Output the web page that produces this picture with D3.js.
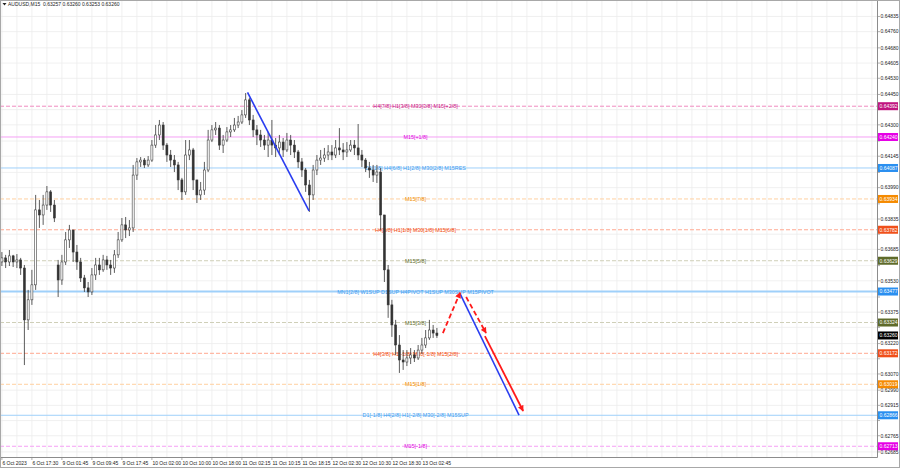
<!DOCTYPE html>
<html><head><meta charset="utf-8">
<script src="https://cdn.jsdelivr.net/npm/d3@7"></script>
<style>html,body{margin:0;padding:0;background:#fff;overflow:hidden}</style>
</head><body><svg id="c" width="900" height="468"></svg>
<script>
// ---------- DATA ----------
const symbolTitle = "AUDUSD,M15  0.63257 0.63260 0.63253 0.63260";
// hourly-sampled candles (index = hour from chart start)
const closes = [0.63643,0.63623,0.63653,0.63623,0.63633,0.63593,0.63337,0.63436,0.63510,0.63880,
0.63855,0.63904,0.63969,0.63904,0.63840,0.63534,0.63623,0.63732,0.63781,0.63672,
0.63623,0.63544,0.63495,0.63475,0.63559,0.63608,0.63584,0.63633,0.63608,0.63593,
0.63658,0.63732,0.63806,0.63781,0.63791,0.64052,0.64117,0.64126,0.64102,0.64126,
0.64200,0.64250,0.64299,0.64200,0.64151,0.64126,0.64102,0.64028,0.63969,0.64151,
0.64176,0.64028,0.63954,0.63978,0.64077,0.64225,0.64275,0.64284,0.64200,0.64225,
0.64265,0.64275,0.64299,0.64314,0.64349,0.64423,0.64324,0.64275,0.64250,0.64225,
0.64200,0.64225,0.64200,0.64186,0.64215,0.64176,0.64225,0.64200,0.64166,0.64117,
0.64077,0.64003,0.63954,0.64077,0.64126,0.64136,0.64151,0.64166,0.64151,0.64186,
0.64176,0.64166,0.64176,0.64200,0.64186,0.64151,0.64126,0.64087,0.64077,0.64052,
0.64067,0.63855,0.63584,0.63411,0.63312,0.63213,0.63139,0.63129,0.63149,0.63164,
0.63149,0.63188,0.63213,0.63248,0.63287,0.63272,0.63260];
const highs = [0.63672,0.63658,0.63682,0.63658,0.63662,0.63643,0.63608,0.63485,0.63584,0.63954,
0.63929,0.63954,0.63998,0.63978,0.63929,0.63633,0.63658,0.63771,0.63806,0.63756,
0.63707,0.63643,0.63559,0.63524,0.63593,0.63643,0.63643,0.63658,0.63653,0.63633,
0.63682,0.63771,0.63840,0.63845,0.63830,0.64102,0.64136,0.64141,0.64136,0.64146,
0.64225,0.64299,0.64324,0.64314,0.64210,0.64176,0.64151,0.64117,0.64038,0.64225,
0.64225,0.64186,0.64028,0.64018,0.64117,0.64275,0.64299,0.64314,0.64299,0.64250,
0.64289,0.64299,0.64334,0.64344,0.64373,0.64457,0.64432,0.64349,0.64299,0.64275,
0.64250,0.64265,0.64324,0.64235,0.64250,0.64235,0.64260,0.64250,0.64225,0.64176,
0.64136,0.64087,0.64028,0.64102,0.64151,0.64176,0.64186,0.64200,0.64200,0.64225,
0.64284,0.64210,0.64215,0.64225,0.64225,0.64304,0.64176,0.64136,0.64117,0.64102,
0.64102,0.64087,0.63855,0.63608,0.63436,0.63337,0.63262,0.63188,0.63188,0.63198,
0.63188,0.63213,0.63248,0.63287,0.63337,0.63312,0.63297];
const lows = [0.63603,0.63593,0.63603,0.63598,0.63593,0.63559,0.63114,0.63287,0.63411,0.63485,
0.63791,0.63806,0.63880,0.63870,0.63820,0.63450,0.63510,0.63608,0.63692,0.63623,
0.63584,0.63524,0.63475,0.63450,0.63460,0.63534,0.63559,0.63574,0.63584,0.63559,
0.63569,0.63643,0.63722,0.63741,0.63751,0.63771,0.64028,0.64092,0.64087,0.64092,
0.64117,0.64186,0.64225,0.64176,0.64117,0.64092,0.64067,0.63978,0.63929,0.63954,
0.64126,0.63978,0.63914,0.63929,0.63954,0.64067,0.64215,0.64250,0.64176,0.64161,
0.64215,0.64240,0.64265,0.64284,0.64304,0.64334,0.64299,0.64240,0.64200,0.64191,
0.64176,0.64141,0.64151,0.64141,0.64151,0.64141,0.64166,0.64151,0.64136,0.64087,
0.64043,0.63969,0.63870,0.63929,0.64052,0.64102,0.64117,0.64126,0.64126,0.64136,
0.64151,0.64126,0.64141,0.64166,0.64151,0.64126,0.64092,0.64067,0.64038,0.64018,
0.64013,0.63781,0.63524,0.63347,0.63253,0.63164,0.63075,0.63090,0.63109,0.63119,
0.63129,0.63139,0.63169,0.63198,0.63238,0.63248,0.63248];
const firstOpen = 0.63623;
const gapOpens = {15: 0.63608};   // Monday session open after weekend gap

const priceTicks = [0.64835,0.64760,0.64680,0.64605,0.64530,0.64450,0.64375,0.64300,0.64220,0.64145,
0.64065,0.63990,0.63910,0.63835,0.63760,0.63685,0.63605,0.63530,0.63450,0.63375,0.63300,0.63220,
0.63145,0.63070,0.62990,0.62915,0.62840,0.62765,0.62685];
const timeTickIndex = [0,8,16,24,32,40,48,56,64,72,80,88,96,104,112];
const timeTickLabels = ["6 Oct 2023","6 Oct 17:30","9 Oct 01:45","9 Oct 09:45","9 Oct 17:45",
"10 Oct 02:00","10 Oct 10:00","10 Oct 18:00","11 Oct 02:15","11 Oct 10:15","11 Oct 18:15",
"12 Oct 02:30","12 Oct 10:30","12 Oct 18:30","13 Oct 02:45"];

const levelPrices = [0.64392,0.64240,0.64087,0.63934,0.63782,0.63629,0.63477,0.63324,0.63172,0.63019,0.62866,0.62713];
const levelLabels = ["H4[7/8] H1[3/8] M30[3/8] M15[+2/8]","M15[+1/8]","D1[1/8] H4[6/8] H1[2/8] M30[2/8] M15RES",
"M15[7/8]","H4[5/8] H1[1/8] M30[1/8] M15[6/8]","M15[5/8]","MN1[2/8] W1SUP D1SUP H4PIVOT H1SUP M30SUP M15PIVOT",
"M15[3/8]","H4[3/8] H1[-1/8] M30[-1/8] M15[2/8]","M15[1/8]","D1[-1/8] H4[2/8] H1[-2/8] M30[-2/8] M15SUP","M15[-1/8]"];
const levelLabelIndex = 110.3;

// trend/forecast lines: [index, price] pairs
const blueLine1 = [[65.5,0.64460],[81.9,0.63875]];
const blueLine2 = [[122.2,0.63465],[137.9,0.62867]];
const redDashUp = [[117.6,0.63272],[122.2,0.63472]];
const redDashDown = [[123.8,0.63450],[129.1,0.63272]];
const redSolid = [[128.8,0.63257],[139.0,0.62887]];

// ---------- STYLES ----------
const levelStyles = [
 {line:"#f08cc0",text:"#c71585",dash:"4,2",w:1},
 {line:"#f5a0f5",text:"#e000e0",dash:null,w:1},
 {line:"#9fd0fa",text:"#3d9bf0",dash:null,w:1},
 {line:"#ffd0a0",text:"#f08c00",dash:"4,2",w:1},
 {line:"#ffa890",text:"#f04a10",dash:"4,2",w:1},
 {line:"#cfcfb8",text:"#5f6b2a",dash:"4,2",w:1},
 {line:"#9fd0fa",text:"#3d9bf0",dash:null,w:2},
 {line:"#cfcfb8",text:"#5f6b2a",dash:"4,2",w:1},
 {line:"#ffa890",text:"#f04a10",dash:"4,2",w:1},
 {line:"#ffd0a0",text:"#f08c00",dash:"4,2",w:1},
 {line:"#9fd0fa",text:"#3d9bf0",dash:null,w:1},
 {line:"#f5a0f5",text:"#e000e0",dash:"4,2",w:1}
];
const tagColors = ["#c0157f","#e600e6","#2a8ff0","#f58a00","#f0501a","#5f6b2a","#2a8ff0","#5f6b2a","#f0501a","#f58a00","#2a8ff0","#e600e6"];
const FONT = "'Liberation Sans', Arial, sans-serif";

// ---------- CHART ----------
const svg = d3.select("#c");
const plotR = 877, plotB = 457;
const y = d3.scaleLinear().domain([0.62660,0.64867]).range([457,10]);
const x = d3.scaleLinear().domain([0,233]).range([1.9, 1.9+3.75*233]);

svg.append("defs").append("clipPath").attr("id","clip")
  .append("rect").attr("x",0).attr("y",0).attr("width",plotR).attr("height",plotB);

const g = svg.append("g").attr("clip-path","url(#clip)");

// grid
const gridX = d3.range(0, 233, 4);
g.selectAll(".gx").data(gridX).enter().append("line")
  .attr("x1",d=>x(d)).attr("x2",d=>x(d)).attr("y1",0).attr("y2",plotB)
  .attr("stroke","#ececec").attr("stroke-width",0.8);
g.selectAll(".gy").data(priceTicks).enter().append("line")
  .attr("x1",0).attr("x2",plotR).attr("y1",d=>y(d)).attr("y2",d=>y(d))
  .attr("stroke","#ececec").attr("stroke-width",0.8);

// level lines
levelPrices.forEach((p,k)=>{
  const s = levelStyles[k];
  g.append("line").attr("x1",0).attr("x2",plotR).attr("y1",y(p)).attr("y2",y(p))
    .attr("stroke",s.line).attr("stroke-width",s.w).attr("stroke-dasharray",s.dash);
});
// level labels
levelPrices.forEach((p,k)=>{
  g.append("text").attr("x",x(levelLabelIndex)).attr("y",y(p)+2.2)
    .attr("text-anchor","middle").attr("font-family",FONT).attr("font-size",5.4)
    .attr("fill",levelStyles[k].text).text(levelLabels[k]);
});

// candles
const candles = closes.map((c,i)=>({i, o: i===0?firstOpen:(gapOpens[i]!==undefined?gapOpens[i]:closes[i-1]), h:highs[i], l:lows[i], c}));
const cg = g.append("g");
cg.selectAll(".wick").data(candles).enter().append("line")
  .attr("x1",d=>x(d.i)).attr("x2",d=>x(d.i)).attr("y1",d=>y(d.h)).attr("y2",d=>y(d.l))
  .attr("stroke","#333").attr("stroke-width",0.8);
cg.selectAll(".body").data(candles).enter().append("rect")
  .attr("x",d=>x(d.i)-1).attr("width",2)
  .attr("y",d=>y(Math.max(d.o,d.c)))
  .attr("height",d=>Math.max(0.8, Math.abs(y(d.o)-y(d.c))))
  .attr("fill",d=>d.c>=d.o?"#ffffff":"#333")
  .attr("stroke","#333").attr("stroke-width",0.55);

// markers
const defs = svg.select("defs");
defs.append("marker").attr("id","arrRed").attr("viewBox","0 0 10 10").attr("refX",9).attr("refY",5)
  .attr("markerWidth",7).attr("markerHeight",6).attr("markerUnits","userSpaceOnUse").attr("orient","auto")
  .append("path").attr("d","M0,0 L10,5 L0,10 z").attr("fill","#ff1a1a");

const lineGen = d3.line().x(d=>x(d[0])).y(d=>y(d[1]));
function drawLine(pts, color, w, dash, arrow){
  const p = g.append("path").attr("d",lineGen(pts)).attr("fill","none")
    .attr("stroke",color).attr("stroke-width",w);
  if(dash) p.attr("stroke-dasharray",dash);
  if(arrow) p.attr("marker-end","url(#arrRed)");
}
drawLine(blueLine1,"#2a3df0",1.6,null,false);
drawLine(blueLine2,"#2a3df0",1.6,null,false);
drawLine(redDashUp,"#ff1a1a",1.8,"5,3",true);
drawLine(redDashDown,"#ff1a1a",1.8,"5,3",true);
drawLine(redSolid,"#ff1a1a",1.8,null,true);

// axes frame
svg.append("line").attr("x1",plotR+0.5).attr("x2",plotR+0.5).attr("y1",0).attr("y2",plotB+0.5).attr("stroke","#8c8c8c");
svg.append("line").attr("x1",0).attr("x2",plotR+0.5).attr("y1",plotB+0.5).attr("y2",plotB+0.5).attr("stroke","#8c8c8c");
svg.append("rect").attr("x",0.5).attr("y",0.5).attr("width",899).attr("height",467).attr("fill","none").attr("stroke","#a8a8a8");

// price axis (labels hidden where a level tag covers them)
const tagPrices = levelPrices.concat([closes[closes.length-1]]);
const ya = svg.append("g");
priceTicks.forEach(p=>{
  ya.append("line").attr("x1",plotR).attr("x2",plotR+3).attr("y1",y(p)).attr("y2",y(p)).attr("stroke","#8c8c8c").attr("stroke-width",0.7);
  const covered = tagPrices.some(t=>Math.abs(y(t)-y(p))<5.5);
  if(!covered) ya.append("text").attr("x",plotR+3.5).attr("y",y(p)+1.8).attr("font-family",FONT).attr("font-size",5)
    .attr("fill","#222").text(p.toFixed(5));
});
// level tags
function tag(p, color){
  ya.append("rect").attr("x",plotR+1).attr("y",y(p)-4).attr("width",20).attr("height",8).attr("fill",color);
  ya.append("text").attr("x",plotR+2.5).attr("y",y(p)+1.8).attr("font-family",FONT).attr("font-size",5)
    .attr("fill","#fff").text(p.toFixed(5));
}
levelPrices.forEach((p,k)=>tag(p, tagColors[k]));
tag(closes[closes.length-1], "#000000");

// time axis
timeTickIndex.forEach((ti,k)=>{
  svg.append("line").attr("x1",x(ti)).attr("x2",x(ti)).attr("y1",plotB).attr("y2",plotB+3).attr("stroke","#8c8c8c").attr("stroke-width",0.7);
  svg.append("text").attr("x",x(ti)+0.5).attr("y",465).attr("font-family",FONT).attr("font-size",5)
    .attr("fill","#222").text(timeTickLabels[k]);
});

// title
svg.append("path").attr("d","M2.5,3 L6.5,3 L4.5,5.5 Z").attr("fill","#222");
svg.append("text").attr("x",8).attr("y",6).attr("font-family",FONT).attr("font-size",5)
  .attr("fill","#222").attr("xml:space","preserve").text(symbolTitle);
</script>
</body></html>
